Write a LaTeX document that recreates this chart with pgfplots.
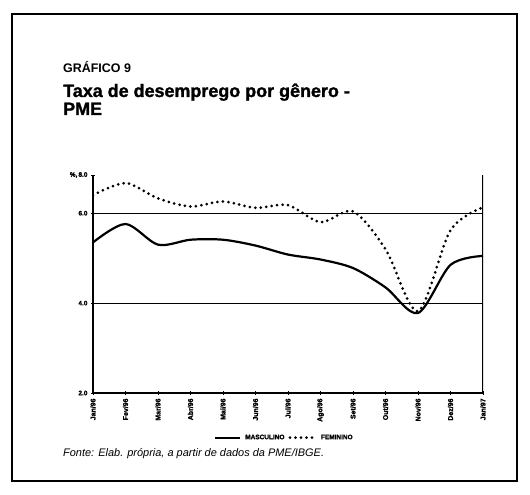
\documentclass[border=0pt]{standalone}
\usepackage{pgfplots}
\pgfplotsset{compat=1.18}
\usepackage{fontspec}
\setmainfont{Liberation Sans}
\newfontfamily\heavyfont[FakeBold=1.5]{Liberation Sans Bold}
\newcommand\toplabel{\%,\,8.0}
\begin{document}
\begin{tikzpicture}
\path (0bp,0bp) rectangle (530bp,495bp);
\draw[line width=1.2bp] (12bp,14bp) rectangle (517bp,481bp);
\node[anchor=base west,inner sep=0,font=\bfseries\fontsize{12.5}{13}\selectfont] at (63bp,422bp) {GRÁFICO 9};
\node[anchor=base west,inner sep=0,font=\heavyfont\fontsize{18}{19}\selectfont] at (63bp,398bp) {Taxa de desemprego por gênero -};
\node[anchor=base west,inner sep=0,font=\heavyfont\fontsize{18}{19}\selectfont] at (63bp,380bp) {PME};
\node[anchor=base west,inner sep=0,font=\itshape\fontsize{11}{12}\selectfont] at (63bp,39bp) {Fonte: Elab. própria, a partir de dados da PME/IBGE.};
\begin{axis}[
  at={(93bp,102bp)}, anchor=south west,
  scale only axis, width=390bp, height=218bp,
  xmin=0, xmax=12, ymin=2, ymax=6.85,
  xtick={0,...,12},
  xticklabels={Jan/96,Fev/96,Mar/96,Abr/96,Mai/96,Jun/96,Jul/96,Ago/96,Set/96,Out/96,Nov/96,Dez/96,Jan/97},
  x tick label style={rotate=90,anchor=east,font=\heavyfont\fontsize{7}{8}\selectfont},
  ytick={2,4,6},
  yticklabels={2.0,4.0,6.0},
  extra y ticks={6.85}, extra y tick labels={\toplabel},
  extra y tick style={grid=none},
  y tick label style={font=\heavyfont\fontsize{6.5}{7}\selectfont},
  /pgf/number format/assume math mode=true,
  ymajorgrids, grid style={black,line width=1.1bp},
  axis line style={black,line width=1.4bp},
  tick style={black,line width=0.9bp},
  tick align=center, major tick length=4bp,
  axis x line*=bottom, axis y line*=left,
  legend style={at={(0.49,-0.205)},anchor=center,draw=none,legend columns=2,
    font=\heavyfont\fontsize{6.5}{7}\selectfont, column sep=2bp},
  legend image post style={xscale=1.5},
  legend cell align=left,
]
\addplot[black,line width=2.2bp,smooth,tension=0.5] coordinates {
(0,5.35) (1,5.76) (2,5.30) (3,5.41) (4,5.41) (5,5.28) (6,5.08) (7,4.97) (8,4.78) (9,4.35) (10,3.78) (11,4.85) (12,5.05)};
\addlegendentry{MASCULINO}
\addplot[black,line width=3bp,line cap=round,dash pattern=on 0bp off 5.5bp,smooth,tension=0.5] coordinates {
(0,6.40) (1,6.67) (2,6.33) (3,6.15) (4,6.26) (5,6.12) (6,6.18) (7,5.80) (8,6.04) (9,5.20) (10,3.82) (11,5.62) (12,6.13)};
\addlegendentry{FEMININO}
\draw[line width=1.4bp] (rel axis cs:1,0) -- (rel axis cs:1,1);
\end{axis}
\end{tikzpicture}
\end{document}
